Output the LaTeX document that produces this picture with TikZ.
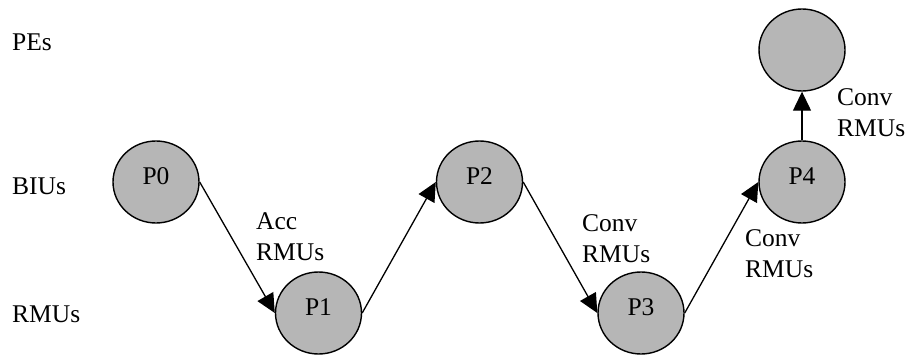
\documentclass[tikz,border=0pt]{standalone}
\usepackage{fontspec}
\setmainfont{Liberation Serif}
\usetikzlibrary{shapes.geometric,arrows.meta}

\tikzset{
  proc/.style={ellipse, draw=black, line width=1.4pt, fill=gray!50!white!95!black,
    minimum width=86pt, minimum height=82pt, inner sep=0pt,
    text height=10pt, text depth=5pt, font=\fontsize{25.5}{31}\selectfont},
  lbl/.style={anchor=base west, inner sep=0pt, align=left,
    font=\fontsize{25.5}{31}\selectfont},
  conn/.style={line width=1.3pt, -{Triangle[length=19pt,width=18pt]}},
}

\begin{document}
\begin{tikzpicture}[x=1pt,y=-1pt]
  \useasboundingbox (0,0) rectangle (912,358);

  % layer names
  \node[lbl] (lpe)  at (12,51)  {PEs};
  \node[lbl] (lbiu) at (12,194) {BIUs};
  \node[lbl] (lrmu) at (12,322) {RMUs};

  % processes
  \node[proc] (p0) at (156,182)   {P0};
  \node[proc] (p1) at (318.5,313) {P1};
  \node[proc] (p2) at (479.5,182) {P2};
  \node[proc] (p3) at (641,313)   {P3};
  \node[proc] (p4) at (802,182)   {P4};
  \node[proc] (pe) at (802,50)    {};

  % transfers
  \draw[conn] (p0.east) -- (p1.west);
  \draw[conn] (p1.east) -- (p2.west);
  \draw[conn] (p2.east) -- (p3.west);
  \draw[conn] (p3.east) -- (p4.west);
  \draw[conn] (p4.north) -- (pe.south);

  % transfer labels (anchored at the baseline of the last line)
  \node[lbl] (t01) at (256,260) {Acc\\RMUs};
  \node[lbl] (t23) at (582,262) {Conv\\RMUs};
  \node[lbl] (t34) at (745,277) {Conv\\RMUs};
  \node[lbl] (t4e) at (837,137) {Conv\\RMUs};
\end{tikzpicture}
\end{document}
